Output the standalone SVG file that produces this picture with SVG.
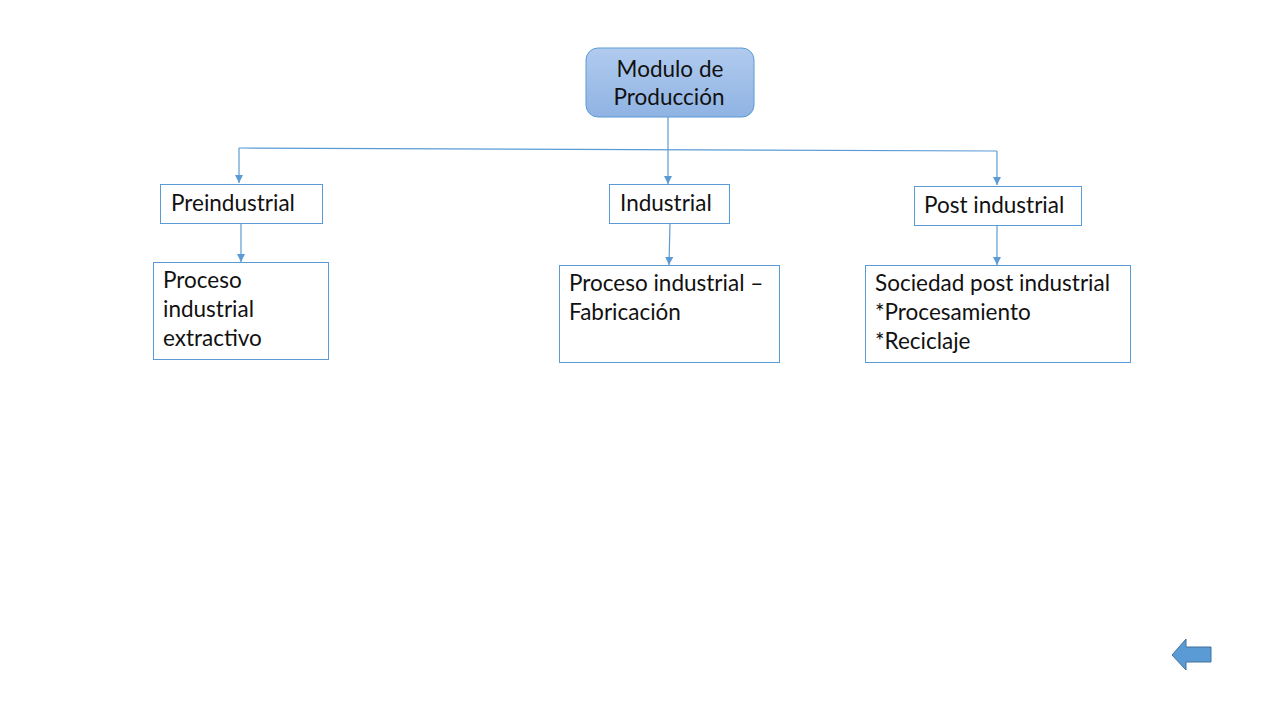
<svg xmlns="http://www.w3.org/2000/svg" width="1280" height="720" viewBox="0 0 1280 720">
<defs>
<linearGradient id="g" x1="0" y1="0" x2="0" y2="1">
<stop offset="0" stop-color="#b1cbee"/>
<stop offset="1" stop-color="#8fb3e3"/>
</linearGradient>
<marker id="ah" viewBox="0 0 8 8" refX="8" refY="4" markerWidth="8" markerHeight="8" markerUnits="userSpaceOnUse" orient="auto">
<path d="M0,0 L8,4 L0,8 Z" fill="#5b9bd5"/>
</marker>
<style>
.box{fill:#fff;stroke:#5b9bd5;stroke-width:1}
.t{font-family:Lato,"Open Sans","Liberation Sans",sans-serif;font-size:22.5px;fill:#111}
.c{fill:none;stroke:#5b9bd5;stroke-width:1.2}
</style>
</defs>
<rect width="1280" height="720" fill="#fff"/>
<g id="connectors">
<path class="c" d="M239,148 L997,151"/>
<path class="c" d="M239,148 L239,183" marker-end="url(#ah)"/>
<path class="c" d="M997,151 L997,185" marker-end="url(#ah)"/>
<path class="c" d="M668,117 L668,184" marker-end="url(#ah)"/>
<path class="c" d="M241,223 L241,262" marker-end="url(#ah)"/>
<path class="c" d="M670,223 L669,265" marker-end="url(#ah)"/>
<path class="c" d="M997,225 L997,265" marker-end="url(#ah)"/>
</g>
<g id="modulo">
<rect x="586" y="48" width="168" height="69" rx="12" fill="url(#g)" stroke="#5b9bd5" stroke-width="1"/>
<text class="t" x="670" y="77" text-anchor="middle">Modulo de</text>
<text class="t" x="669" y="105" text-anchor="middle">Producción</text>
</g>
<g id="preindustrial">
<rect class="box" x="160.5" y="184.5" width="162" height="39"/>
<text class="t" x="171" y="211">Preindustrial</text>
</g>
<g id="industrial">
<rect class="box" x="609.5" y="184.5" width="120" height="39"/>
<text class="t" x="620" y="211">Industrial</text>
</g>
<g id="postindustrial">
<rect class="box" x="914.5" y="186.5" width="167" height="39"/>
<text class="t" x="924" y="213">Post industrial</text>
</g>
<g id="extractivo">
<rect class="box" x="153.5" y="262.5" width="175" height="97"/>
<text class="t" x="163" y="288">Proceso</text>
<text class="t" x="163" y="317">industrial</text>
<text class="t" x="163" y="346">extractivo</text>
</g>
<g id="fabricacion">
<rect class="box" x="559.5" y="265.5" width="220" height="97"/>
<text class="t" x="569" y="291">Proceso industrial –</text>
<text class="t" x="569" y="320">Fabricación</text>
</g>
<g id="sociedad">
<rect class="box" x="865.5" y="265.5" width="265" height="97"/>
<text class="t" x="875" y="291">Sociedad post industrial</text>
<text class="t" x="875" y="320">*Procesamiento</text>
<text class="t" x="875" y="349">*Reciclaje</text>
</g>
<g id="back-arrow">
<path d="M1172,655 L1186,639 L1186,647 L1211,647 L1211,662 L1186,662 L1186,670 Z" fill="#5b9bd5" stroke="#41719c" stroke-width="1"/>
</g>
</svg>
